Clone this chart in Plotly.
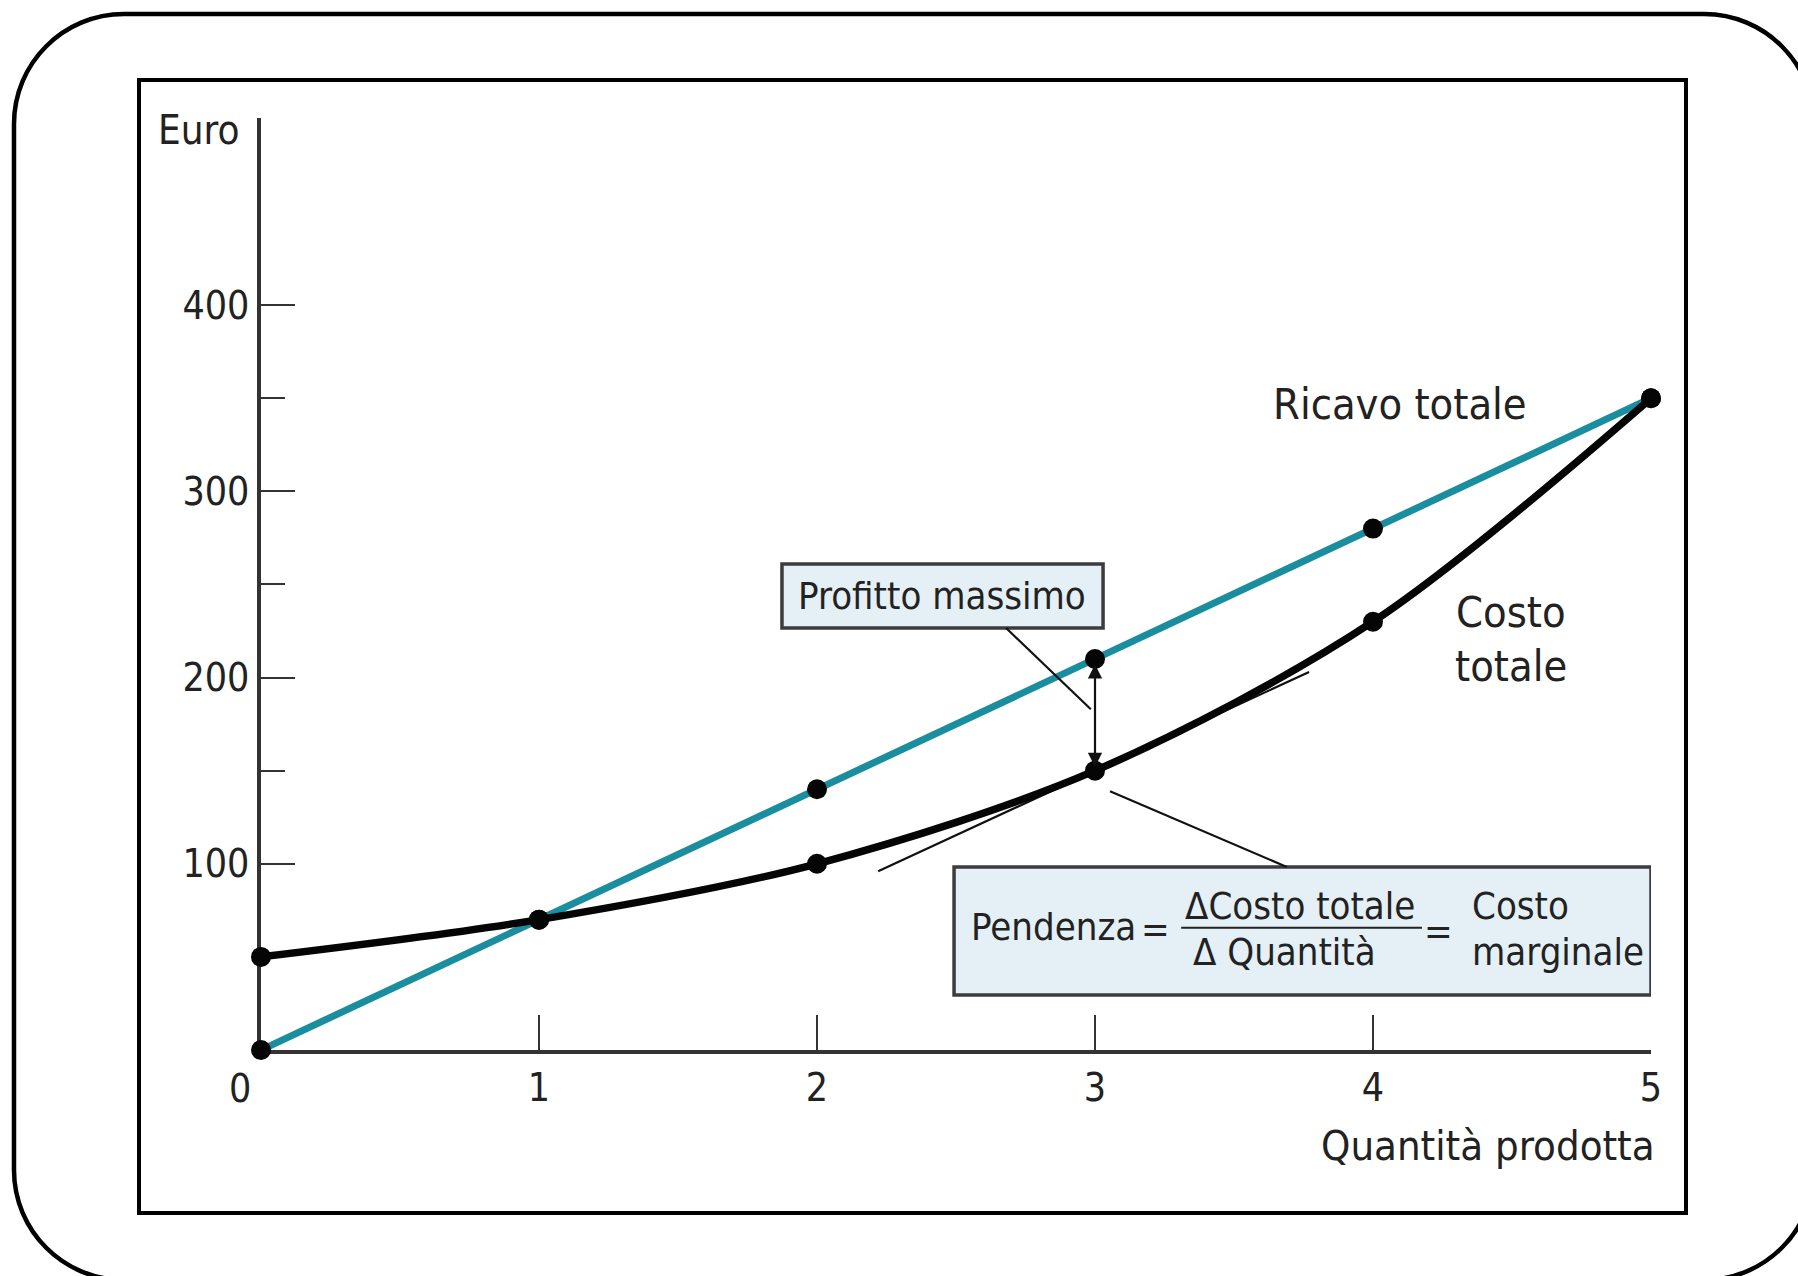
import plotly.graph_objects as go

# Quantity produced and the two totals (euro)
quantita = [0, 1, 2, 3, 4, 5]
ricavo_totale = [0, 70, 140, 210, 280, 350]
costo_totale = [50, 70, 100, 150, 230, 350]

# Tangent to the total cost curve at the profit-maximising quantity
tangente_q = [2.22, 3.77]
tangente_euro = [96, 203]

x_ticks = [0, 1, 2, 3, 4, 5]
x_tick_text = ["", "1", "2", "3", "4", "5"]
y_ticks = [100, 200, 300, 400]
y_minor_ticks = [150, 250, 350]

W, H = 1798, 1276
# horizontal extent the page actually lays the figure out on
W_PAGE = 1787
FONT = "DejaVu Sans Condensed, Liberation Sans Narrow, Arial Narrow, sans-serif"
TEAL = "#1a8d9f"
INK = "#222222"
AXIS = "#333333"
BOX_FILL = "#e4f0f5"

fig = go.Figure()

fig.add_trace(go.Scatter(
    x=tangente_q, y=tangente_euro, mode="lines",
    line=dict(color="#111111", width=2.2), hoverinfo="skip", showlegend=False))

fig.add_trace(go.Scatter(
    x=quantita, y=ricavo_totale, mode="lines+markers",
    line=dict(color=TEAL, width=7),
    marker=dict(color="#050505", size=20),
    cliponaxis=False, showlegend=False, name="Ricavo totale"))

fig.add_trace(go.Scatter(
    x=quantita, y=costo_totale, mode="lines+markers",
    line=dict(color="#050505", width=7.5, shape="spline", smoothing=0.9),
    marker=dict(color="#050505", size=20),
    cliponaxis=False, showlegend=False, name="Costo totale"))


def px_x(p):
    return p / W_PAGE


def px_y(p):
    return 1 - p / H


def rounded_rect(x0, y0, x1, y1, r):
    # rounded rectangle in pixel units, converted to paper coordinates
    k = 0.5523 * r
    pts = [
        ("M", [(x0 + r, y0)]),
        ("L", [(x1 - r, y0)]),
        ("C", [(x1 - r + k, y0), (x1, y0 + r - k), (x1, y0 + r)]),
        ("L", [(x1, y1 - r)]),
        ("C", [(x1, y1 - r + k), (x1 - r + k, y1), (x1 - r, y1)]),
        ("L", [(x0 + r, y1)]),
        ("C", [(x0 + r - k, y1), (x0, y1 - r + k), (x0, y1 - r)]),
        ("L", [(x0, y0 + r)]),
        ("C", [(x0, y0 + r - k), (x0 + r - k, y0), (x0 + r, y0)]),
    ]
    out = []
    for cmd, coords in pts:
        out.append(cmd + " " + " ".join(f"{px_x(a):.5f},{px_y(b):.5f}" for a, b in coords))
    return " ".join(out) + " Z"


shapes = [
    # outer rounded frame
    dict(type="path", xref="paper", yref="paper",
         path=rounded_rect(14, 14, 1814, 1280, 110),
         line=dict(color="#000000", width=4.5), layer="below"),
    # inner frame
    dict(type="rect", xref="paper", yref="paper",
         x0=px_x(139), x1=px_x(1686), y0=px_y(80), y1=px_y(1213),
         line=dict(color="#000000", width=4), layer="below"),
    # "Profitto massimo" box
    dict(type="rect", xref="x", yref="y", x0=1.874, x1=3.029, y0=226.6, y1=261,
         fillcolor=BOX_FILL, line=dict(color="#3c3c3c", width=3.5), layer="above"),
    # leader from the box to the profit arrow
    dict(type="line", xref="x", yref="y", x0=2.68, y0=226.6, x1=2.985, y1=183,
         line=dict(color="#111111", width=2.2)),
    # slope box
    dict(type="rect", xref="x", yref="y", x0=2.493, x1=5.0, y0=29.5, y1=98.3,
         fillcolor=BOX_FILL, line=dict(color="#3c3c3c", width=3.5), layer="above"),
    # leader from the slope box to the tangency point
    dict(type="line", xref="x", yref="y", x0=3.69, y0=98.3, x1=3.054, y1=139,
         line=dict(color="#111111", width=2.2)),
    # fraction bar
    dict(type="line", xref="x", yref="y", x0=3.31, y0=65.7, x1=4.176, y1=65.7,
         line=dict(color=INK, width=2)),
]


def label(text, x, y, size=40, xanchor="center", yanchor="middle", ref="data"):
    xr, yr = ("x", "y") if ref == "data" else ("paper", "paper")
    return dict(text=text, x=x, y=y, xref=xr, yref=yr, showarrow=False,
                xanchor=xanchor, yanchor=yanchor,
                font=dict(family=FONT, size=size, color=INK))


annotations = [
    # labels that sit outside the axis ranges are placed in paper units
    label("Euro", px_x(241), px_y(130), size=40, xanchor="right", ref="paper"),
    label("0", px_x(240), px_y(1088), size=39, ref="paper"),
    label("Quantità prodotta", px_x(1657), px_y(1145), size=41.5, xanchor="right", ref="paper"),
    label("Ricavo totale", 4.097, 347, size=43),
    label("Costo", 4.496, 235, size=43),
    label("totale", 4.496, 206, size=43),
    label("Profitto massimo", 2.45, 243.8, size=38),
    label("Pendenza", 2.547, 66.3, size=38, xanchor="left"),
    label("=", 3.216, 65, size=38),
    label("\u0394Costo totale", 3.737, 77.3, size=38),
    label("\u0394 Quantità", 3.68, 52.7, size=38),
    label("=", 4.237, 64, size=38),
    label("Costo", 4.349, 77.3, size=38, xanchor="left"),
    label("marginale", 4.349, 52.7, size=38, xanchor="left"),
    # double-headed arrow measuring the maximum profit
    dict(x=3.0, y=152, ax=3.0, ay=208, xref="x", yref="y", axref="x", ayref="y",
         showarrow=True, arrowhead=2, startarrowhead=2, arrowside="end+start",
         arrowsize=1.3, startarrowsize=1.3, arrowwidth=2.2, arrowcolor="#111111",
         text=""),
]

fig.update_layout(
    width=W, height=H, autosize=False,
    margin=dict(l=0, r=0, t=0, b=0),
    paper_bgcolor="white", plot_bgcolor="white",
    showlegend=False,
    shapes=shapes, annotations=annotations,
    xaxis=dict(
        domain=[px_x(261), px_x(1651)], range=[0, 5],
        showgrid=False, zeroline=False,
        showline=True, linecolor=AXIS, linewidth=3.5,
        ticks="inside", ticklen=35, tickwidth=1.6, tickcolor=AXIS,
        tickvals=x_ticks, ticktext=x_tick_text,
        tickfont=dict(family=FONT, size=39, color=INK),
        layer="below traces", fixedrange=True,
    ),
    yaxis=dict(
        domain=[(H - 1050) / H, (H - 118) / H], range=[0, 500.5],
        showgrid=False, zeroline=False,
        showline=True, linecolor=AXIS, linewidth=3.5,
        ticks="inside", ticklen=34, tickwidth=1.6, tickcolor=AXIS,
        tickvals=y_ticks,
        minor=dict(tickvals=y_minor_ticks, ticks="inside", ticklen=24,
                   tickwidth=1.6, tickcolor=AXIS),
        tickfont=dict(family=FONT, size=39, color=INK),
        layer="below traces", fixedrange=True,
    ),
)

fig.write_html("out.html", config={"responsive": False})
